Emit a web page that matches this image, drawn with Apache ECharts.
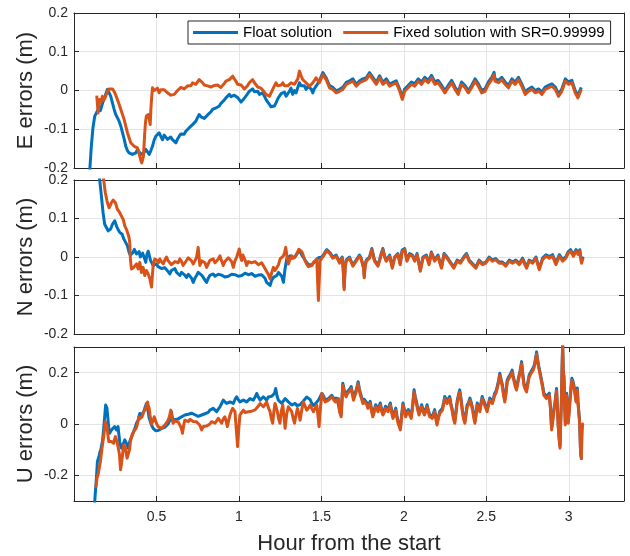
<!DOCTYPE html>
<html>
<head>
<meta charset="utf-8">
<script src="https://cdn.jsdelivr.net/npm/echarts@6/dist/echarts.min.js"></script>
<style>
  html, body { margin: 0; padding: 0; background: #ffffff; }
  #chart { width: 630px; height: 556px; }
</style>
</head>
<body>
<div id="chart"></div>
<script>
// Positioning errors (m) against elapsed time (hours), [hour, error] pairs.
const seriesNames = ['Float solution', 'Fixed solution with SR=0.99999'];
const panelTitles = ['E errors (m)', 'N errors (m)', 'U errors (m)'];
const xTitle = 'Hour from the start';

const eFloat = [[0.095,-0.21],[0.105,-0.144],[0.115,-0.096],[0.126,-0.066],[0.138,-0.062],[0.145,-0.05],[0.152,-0.045],[0.16,-0.052],[0.168,-0.04],[0.175,-0.03],[0.182,-0.023],[0.192,-0.01],[0.203,0.003],[0.213,-0.002],[0.223,-0.015],[0.233,-0.032],[0.243,-0.048],[0.253,-0.062],[0.263,-0.07],[0.273,-0.079],[0.284,-0.092],[0.294,-0.109],[0.304,-0.125],[0.314,-0.144],[0.324,-0.155],[0.334,-0.161],[0.344,-0.166],[0.354,-0.165],[0.365,-0.16],[0.375,-0.161],[0.385,-0.152],[0.395,-0.157],[0.405,-0.165],[0.415,-0.17],[0.425,-0.16],[0.435,-0.152],[0.445,-0.158],[0.456,-0.165],[0.466,-0.155],[0.476,-0.144],[0.486,-0.128],[0.496,-0.118],[0.506,-0.122],[0.516,-0.109],[0.526,-0.118],[0.537,-0.127],[0.547,-0.115],[0.557,-0.118],[0.567,-0.126],[0.577,-0.131],[0.587,-0.12],[0.597,-0.127],[0.608,-0.122],[0.618,-0.135],[0.628,-0.125],[0.638,-0.118],[0.648,-0.112],[0.658,-0.109],[0.668,-0.113],[0.678,-0.105],[0.689,-0.1],[0.699,-0.096],[0.709,-0.092],[0.719,-0.088],[0.729,-0.083],[0.739,-0.079],[0.749,-0.07],[0.759,-0.062],[0.77,-0.068],[0.78,-0.066],[0.79,-0.072],[0.8,-0.071],[0.81,-0.063],[0.82,-0.058],[0.83,-0.055],[0.84,-0.049],[0.851,-0.052],[0.861,-0.045],[0.871,-0.043],[0.881,-0.04],[0.891,-0.033],[0.901,-0.028],[0.911,-0.025],[0.921,-0.019],[0.932,-0.014],[0.942,-0.01],[0.952,-0.016],[0.962,-0.019],[0.972,-0.012],[0.982,-0.01],[0.992,-0.018],[1.002,-0.023],[1.013,-0.03],[1.023,-0.028],[1.033,-0.02],[1.043,-0.015],[1.053,-0.008],[1.063,-0.002],[1.073,0.002],[1.083,0.004],[1.094,-0.003],[1.104,-0.006],[1.114,-0.002],[1.124,-0.01],[1.134,-0.005],[1.144,-0.006],[1.154,-0.014],[1.164,-0.023],[1.175,-0.03],[1.185,-0.036],[1.195,-0.042],[1.205,-0.045],[1.215,-0.04],[1.225,-0.032],[1.235,-0.022],[1.245,-0.015],[1.256,-0.008],[1.266,-0.01],[1.276,-0.004],[1.286,-0.015],[1.296,-0.008],[1.306,-0.002],[1.316,0.006],[1.326,-0.01],[1.337,0.0],[1.347,-0.006],[1.357,0.008],[1.367,0.02],[1.377,0.012],[1.387,0.007],[1.397,0.012],[1.407,0.003],[1.418,0.01],[1.428,0.009],[1.438,0.004],[1.448,-0.006],[1.458,0.005],[1.468,0.011],
[1.488,0.025],[1.509,0.046],[1.529,0.033],[1.549,0.013],[1.569,0.008],[1.59,-0.001],[1.61,0.003],[1.63,0.008],[1.651,0.021],[1.671,0.025],[1.691,0.03],[1.711,0.016],[1.732,0.025],[1.752,0.03],[1.772,0.033],[1.792,0.046],[1.813,0.033],[1.833,0.021],[1.853,0.038],[1.873,0.021],[1.894,0.03],[1.914,0.016],[1.934,0.021],[1.954,0.025],[1.975,0.003],[1.991,-0.018],[2.005,0.004],[2.026,0.013],[2.046,0.022],[2.066,0.017],[2.087,0.03],[2.107,0.022],[2.127,0.034],[2.148,0.026],[2.168,0.039],[2.188,0.022],[2.208,0.026],[2.229,0.013],[2.249,0.0],[2.269,0.013],[2.29,0.026],[2.31,0.009],[2.33,-0.004],[2.35,0.022],[2.371,0.013],[2.391,0.0],[2.411,0.013],[2.432,0.03],[2.452,0.017],[2.472,0.0],[2.492,0.004],[2.513,0.022],[2.533,0.034],[2.547,0.047],[2.553,0.03],[2.574,0.026],[2.594,0.034],[2.614,0.022],[2.634,0.013],[2.655,0.03],[2.675,0.022],[2.695,0.034],[2.715,0.017],[2.736,-0.004],[2.756,0.004],[2.776,0.009],[2.796,0.0],[2.817,0.004],[2.837,-0.004],[2.857,0.009],[2.877,0.013],[2.898,0.017],[2.918,0.009],[2.938,-0.009],[2.958,0.004],[2.979,0.03],[2.999,0.022],[3.019,0.026],[3.039,0.0],[3.055,-0.013],[3.076,0.008]];

const eFixed = [[0.138,-0.013],[0.146,-0.058],[0.156,-0.023],[0.164,-0.03],[0.172,-0.015],[0.18,-0.025],[0.188,-0.019],[0.196,-0.01],[0.203,-0.002],[0.213,0.004],[0.223,0.009],[0.233,0.004],[0.243,-0.002],[0.253,-0.012],[0.263,-0.023],[0.273,-0.035],[0.284,-0.049],[0.294,-0.062],[0.304,-0.075],[0.314,-0.092],[0.324,-0.109],[0.334,-0.122],[0.344,-0.135],[0.354,-0.14],[0.365,-0.144],[0.375,-0.146],[0.385,-0.148],[0.392,-0.16],[0.399,-0.17],[0.405,-0.18],[0.411,-0.187],[0.416,-0.182],[0.421,-0.17],[0.425,-0.14],[0.429,-0.109],[0.434,-0.08],[0.439,-0.066],[0.445,-0.07],[0.452,-0.062],[0.457,-0.075],[0.462,-0.088],[0.466,-0.05],[0.47,-0.023],[0.476,0.007],[0.486,0.0],[0.496,0.003],[0.506,0.006],[0.516,-0.006],[0.526,0.002],[0.537,0.007],[0.547,0.002],[0.557,-0.002],[0.567,-0.006],[0.577,-0.01],[0.587,-0.012],[0.597,-0.015],[0.608,-0.01],[0.618,-0.006],[0.628,0.0],[0.638,0.003],[0.648,0.008],[0.658,0.011],[0.668,0.004],[0.678,0.007],[0.689,0.012],[0.699,0.016],[0.709,0.012],[0.719,0.02],[0.729,0.018],[0.739,0.016],[0.749,0.022],[0.759,0.028],[0.77,0.024],[0.78,0.02],[0.79,0.014],[0.8,0.009],[0.81,0.012],[0.82,0.007],[0.83,0.009],[0.84,0.011],[0.851,0.013],[0.861,0.016],[0.871,0.014],[0.881,0.011],[0.891,0.008],[0.901,0.013],[0.911,0.018],[0.921,0.024],[0.932,0.02],[0.942,0.028],[0.952,0.032],[0.962,0.037],[0.972,0.03],[0.982,0.024],[0.992,0.016],[1.002,0.02],[1.013,0.014],[1.023,0.011],[1.033,0.004],[1.043,0.007],[1.053,0.013],[1.063,0.02],[1.073,0.024],[1.083,0.028],[1.094,0.02],[1.104,0.016],[1.114,0.009],[1.124,0.011],[1.134,0.006],[1.144,0.003],[1.154,-0.004],[1.164,-0.01],[1.175,-0.012],[1.185,-0.015],[1.195,-0.006],[1.205,0.003],[1.215,0.012],[1.225,0.02],[1.235,0.012],[1.245,0.007],[1.256,0.014],[1.266,0.02],[1.276,0.012],[1.286,0.007],[1.296,0.012],[1.306,0.016],[1.316,0.02],[1.326,0.024],[1.337,0.016],[1.347,0.011],[1.357,0.03],[1.367,0.05],[1.377,0.038],[1.387,0.028],[1.397,0.024],[1.407,0.02],[1.418,0.015],[1.428,0.011],[1.438,0.016],[1.448,0.02],[1.458,0.026],[1.468,0.033],[1.488,0.02],[1.509,0.041],[1.529,0.028],[1.549,0.007],[1.569,0.003],[1.59,-0.006],[1.61,-0.002],[1.63,0.003],[1.651,0.016],[1.671,0.02],[1.691,0.024],[1.711,0.011],[1.732,0.02],[1.752,0.024],[1.772,0.028],[1.792,0.041],[1.813,0.028],[1.833,0.016],[1.853,0.033],[1.873,0.016],[1.894,0.024],[1.914,0.011],[1.934,0.016],[1.954,0.02],[1.975,-0.002],[1.991,-0.023],[2.005,-0.002],[2.026,0.007],[2.046,0.016],[2.066,0.011],[2.087,0.024],[2.107,0.016],[2.127,0.028],[2.148,0.02],[2.168,0.033],[2.188,0.016],[2.208,0.02],[2.229,0.007],[2.249,-0.006],[2.269,0.007],[2.29,0.02],[2.31,0.003],[2.33,-0.01],[2.35,0.016],[2.371,0.007],[2.391,-0.006],[2.411,0.007],[2.432,0.024],[2.452,0.011],[2.472,-0.006],[2.492,-0.002],[2.513,0.016],[2.533,0.028],[2.547,0.041],[2.553,0.024],[2.574,0.02],[2.594,0.028],[2.614,0.016],[2.634,0.007],[2.655,0.024],[2.675,0.016],[2.695,0.028],[2.715,0.011],[2.736,-0.01],[2.756,-0.002],[2.776,0.003],[2.796,-0.006],[2.817,-0.002],[2.837,-0.01],[2.857,0.003],[2.877,0.007],[2.898,0.011],[2.918,0.003],[2.938,-0.015],[2.958,-0.002],[2.979,0.024],[2.999,0.016],[3.019,0.02],[3.039,-0.006],[3.055,-0.019],[3.076,0.003]];

const nFloat = [[0.146,0.236],[0.156,0.2],[0.166,0.159],[0.176,0.116],[0.186,0.085],[0.196,0.081],[0.207,0.068],[0.214,0.066],[0.221,0.072],[0.227,0.078],[0.233,0.085],[0.24,0.09],[0.247,0.094],[0.254,0.085],[0.261,0.077],[0.269,0.07],[0.277,0.064],[0.285,0.066],[0.292,0.059],[0.302,0.047],[0.308,0.05],[0.314,0.042],[0.324,0.029],[0.334,0.012],[0.341,0.005],[0.348,0.003],[0.358,0.012],[0.366,0.02],[0.373,0.016],[0.379,0.008],[0.385,0.003],[0.395,0.014],[0.402,0.0],[0.409,-0.005],[0.416,0.01],[0.423,0.008],[0.429,-0.005],[0.435,-0.014],[0.443,0.008],[0.45,0.015],[0.456,0.012],[0.464,-0.009],[0.472,-0.015],[0.48,-0.022],[0.49,-0.02],[0.5,-0.018],[0.51,-0.025],[0.52,-0.022],[0.53,-0.03],[0.541,-0.035],[0.551,-0.028],[0.561,-0.031],[0.571,-0.038],[0.581,-0.044],[0.591,-0.035],[0.601,-0.035],[0.612,-0.03],[0.622,-0.04],[0.632,-0.042],[0.642,-0.048],[0.652,-0.04],[0.662,-0.04],[0.672,-0.047],[0.682,-0.053],[0.693,-0.045],[0.703,-0.044],[0.713,-0.055],[0.723,-0.066],[0.733,-0.055],[0.743,-0.048],[0.753,-0.04],[0.763,-0.04],[0.774,-0.047],[0.784,-0.053],[0.794,-0.06],[0.804,-0.066],[0.814,-0.055],[0.824,-0.048],[0.834,-0.043],[0.844,-0.044],[0.855,-0.05],[0.865,-0.053],[0.875,-0.045],[0.885,-0.044],[0.895,-0.047],[0.905,-0.048],[0.915,-0.052],[0.925,-0.057],[0.936,-0.05],[0.946,-0.053],[0.956,-0.045],[0.966,-0.04],[0.976,-0.046],[0.986,-0.048],[0.996,-0.05],[1.006,-0.053],[1.017,-0.048],[1.027,-0.044],[1.037,-0.042],[1.047,-0.04],[1.057,-0.046],[1.067,-0.048],[1.077,-0.043],[1.087,-0.044],[1.098,-0.05],[1.108,-0.053],[1.118,-0.047],[1.128,-0.044],[1.138,-0.046],[1.148,-0.048],[1.158,-0.055],[1.168,-0.066],[1.178,-0.07],[1.189,-0.074],[1.199,-0.06],[1.209,-0.053],[1.219,-0.05],[1.229,-0.048],[1.24,-0.04],[1.25,-0.035],[1.26,-0.05],[1.27,-0.066],[1.28,-0.03],[1.29,-0.005],[1.3,0.0],[1.31,0.003],[1.32,-0.003],[1.33,-0.005],[1.34,0.0],[1.35,0.008],[1.36,0.012],[1.371,0.016],[1.381,0.005],[1.391,-0.001],[1.401,-0.008],[1.411,-0.014],[1.421,-0.02],[1.432,-0.022],[1.442,-0.02],[1.452,-0.018],[1.462,-0.012],[1.472,-0.009],
[1.482,-0.002],[1.492,-0.007],[1.503,0.0],[1.513,0.006],[1.523,0.013],[1.533,0.019],[1.543,0.015],[1.553,0.011],[1.569,0.0],[1.59,0.005],[1.61,-0.013],[1.626,0.0],[1.632,-0.027],[1.638,-0.08],[1.644,-0.027],[1.65,-0.008],[1.67,0.0],[1.691,-0.021],[1.711,-0.008],[1.731,0.005],[1.741,-0.002],[1.752,-0.004],[1.756,-0.027],[1.76,-0.05],[1.764,-0.027],[1.772,-0.008],[1.782,-0.005],[1.792,0.0],[1.806,0.022],[1.822,-0.008],[1.843,-0.021],[1.853,-0.007],[1.863,0.009],[1.873,0.022],[1.883,0.003],[1.893,-0.008],[1.904,-0.002],[1.914,0.005],[1.93,-0.026],[1.944,0.0],[1.954,0.005],[1.964,0.009],[1.978,-0.017],[1.99,0.018],[2.005,0.022],[2.019,-0.008],[2.035,0.009],[2.052,0.005],[2.066,-0.008],[2.08,0.009],[2.09,-0.012],[2.1,-0.034],[2.108,-0.017],[2.116,0.0],[2.137,0.005],[2.153,-0.017],[2.167,0.013],[2.187,-0.008],[2.207,0.005],[2.218,-0.012],[2.228,-0.026],[2.244,0.009],[2.262,0.0],[2.282,-0.013],[2.303,-0.026],[2.323,-0.008],[2.343,-0.013],[2.363,0.0],[2.38,0.009],[2.396,-0.008],[2.416,-0.017],[2.437,-0.026],[2.456,-0.008],[2.477,-0.017],[2.497,-0.013],[2.517,0.0],[2.537,-0.008],[2.557,-0.004],[2.578,-0.013],[2.598,-0.013],[2.618,-0.021],[2.639,-0.008],[2.659,-0.013],[2.679,-0.008],[2.7,-0.017],[2.72,-0.003],[2.744,-0.026],[2.76,-0.008],[2.781,-0.013],[2.801,0.0],[2.821,-0.03],[2.841,-0.003],[2.862,0.006],[2.882,0.001],[2.902,0.006],[2.922,-0.016],[2.943,0.006],[2.963,-0.007],[2.983,0.001],[2.997,0.014],[3.011,0.019],[3.028,0.006],[3.044,0.019],[3.058,0.01],[3.067,0.019],[3.077,-0.012],[3.087,0.001]];

const nFixed = [[0.17,0.23],[0.18,0.2],[0.19,0.167],[0.2,0.146],[0.207,0.135],[0.213,0.128],[0.22,0.134],[0.227,0.141],[0.237,0.148],[0.244,0.145],[0.251,0.141],[0.257,0.133],[0.263,0.124],[0.27,0.12],[0.277,0.116],[0.283,0.11],[0.288,0.107],[0.298,0.098],[0.303,0.09],[0.308,0.081],[0.318,0.072],[0.328,0.059],[0.334,0.05],[0.338,0.038],[0.342,-0.005],[0.348,-0.031],[0.355,-0.03],[0.362,-0.027],[0.37,-0.022],[0.379,-0.018],[0.389,-0.031],[0.399,-0.014],[0.409,-0.04],[0.419,-0.027],[0.429,-0.048],[0.439,-0.035],[0.45,-0.044],[0.46,-0.057],[0.47,-0.078],[0.48,-0.022],[0.49,-0.005],[0.497,-0.01],[0.504,-0.009],[0.512,-0.015],[0.52,-0.005],[0.53,-0.012],[0.541,-0.018],[0.551,-0.008],[0.561,0.0],[0.571,-0.01],[0.581,-0.014],[0.591,-0.02],[0.601,-0.022],[0.612,-0.012],[0.622,-0.009],[0.632,-0.015],[0.642,-0.005],[0.652,-0.012],[0.662,-0.022],[0.672,-0.018],[0.682,-0.009],[0.693,-0.002],[0.703,0.003],[0.713,-0.01],[0.723,-0.018],[0.733,-0.01],[0.743,-0.001],[0.753,0.025],[0.763,-0.022],[0.774,-0.01],[0.784,-0.005],[0.794,-0.015],[0.804,-0.027],[0.814,-0.018],[0.824,-0.009],[0.834,-0.012],[0.844,-0.005],[0.855,-0.015],[0.865,-0.018],[0.875,-0.005],[0.885,0.003],[0.895,-0.01],[0.905,-0.022],[0.915,-0.012],[0.925,-0.014],[0.936,-0.002],[0.946,-0.005],[0.956,-0.012],[0.966,-0.027],[0.976,-0.01],[0.986,-0.001],[0.994,0.01],[1.002,0.021],[1.01,0.0],[1.017,-0.009],[1.024,0.005],[1.031,0.008],[1.039,-0.01],[1.047,-0.022],[1.057,-0.012],[1.067,-0.009],[1.077,-0.015],[1.087,-0.018],[1.098,-0.012],[1.108,-0.014],[1.118,-0.02],[1.128,-0.022],[1.138,-0.015],[1.148,-0.018],[1.158,-0.03],[1.168,-0.035],[1.178,-0.045],[1.189,-0.057],[1.199,-0.04],[1.209,-0.027],[1.219,-0.035],[1.229,-0.04],[1.24,-0.02],[1.25,-0.005],[1.26,-0.01],[1.27,0.003],[1.277,0.012],[1.284,0.025],[1.292,0.0],[1.3,-0.018],[1.31,-0.005],[1.32,0.003],[1.33,-0.003],[1.341,-0.005],[1.348,0.005],[1.355,0.012],[1.363,0.02],[1.371,0.025],[1.381,0.014],[1.391,0.003],[1.401,-0.01],[1.411,-0.018],[1.421,-0.025],[1.432,-0.027],[1.442,-0.022],[1.452,-0.014],[1.462,-0.01],[1.472,-0.005],[1.482,-0.113],[1.492,-0.01],[1.503,-0.003],[1.513,0.003],[1.523,0.01],[1.533,0.016],[1.543,0.012],[1.553,0.008],
[1.569,-0.003],[1.59,0.002],[1.61,-0.016],[1.626,-0.003],[1.632,-0.03],[1.638,-0.085],[1.644,-0.03],[1.65,-0.011],[1.67,-0.003],[1.691,-0.024],[1.711,-0.011],[1.731,0.002],[1.741,-0.005],[1.752,-0.007],[1.756,-0.03],[1.76,-0.054],[1.764,-0.03],[1.772,-0.011],[1.782,-0.008],[1.792,-0.003],[1.806,0.019],[1.822,-0.011],[1.843,-0.024],[1.853,-0.01],[1.863,0.006],[1.873,0.019],[1.883,0.0],[1.893,-0.011],[1.904,-0.005],[1.914,0.002],[1.93,-0.029],[1.944,-0.003],[1.954,0.002],[1.964,0.006],[1.978,-0.02],[1.99,0.015],[2.005,0.019],[2.019,-0.011],[2.035,0.006],[2.052,0.002],[2.066,-0.011],[2.08,0.006],[2.09,-0.015],[2.1,-0.037],[2.108,-0.02],[2.116,-0.003],[2.137,0.002],[2.153,-0.02],[2.167,0.01],[2.187,-0.011],[2.207,0.002],[2.218,-0.015],[2.228,-0.029],[2.244,0.006],[2.262,-0.003],[2.282,-0.016],[2.303,-0.029],[2.323,-0.011],[2.343,-0.016],[2.363,-0.003],[2.38,0.006],[2.396,-0.011],[2.416,-0.02],[2.437,-0.029],[2.456,-0.011],[2.477,-0.02],[2.497,-0.016],[2.517,-0.003],[2.537,-0.011],[2.557,-0.007],[2.578,-0.016],[2.598,-0.016],[2.618,-0.024],[2.639,-0.011],[2.659,-0.016],[2.679,-0.011],[2.7,-0.02],[2.72,-0.007],[2.744,-0.029],[2.76,-0.011],[2.781,-0.016],[2.801,-0.003],[2.821,-0.033],[2.841,-0.007],[2.862,0.002],[2.882,-0.003],[2.902,0.002],[2.922,-0.02],[2.943,0.002],[2.963,-0.011],[2.983,-0.003],[2.997,0.01],[3.011,0.015],[3.028,0.002],[3.044,0.015],[3.058,0.006],[3.067,0.015],[3.077,-0.016],[3.087,-0.003]];

const uFloat = [[0.124,-0.32],[0.128,-0.28],[0.132,-0.245],[0.136,-0.21],[0.142,-0.146],[0.147,-0.135],[0.152,-0.126],[0.157,-0.11],[0.162,-0.101],[0.167,-0.085],[0.172,-0.068],[0.176,-0.045],[0.18,-0.017],[0.186,0.028],[0.19,0.06],[0.192,0.074],[0.196,0.07],[0.2,0.061],[0.205,0.025],[0.209,-0.004],[0.213,-0.025],[0.217,-0.036],[0.222,-0.028],[0.227,-0.03],[0.232,-0.02],[0.237,-0.017],[0.242,-0.022],[0.247,-0.01],[0.252,-0.015],[0.257,-0.023],[0.262,-0.018],[0.267,-0.01],[0.272,-0.04],[0.277,-0.068],[0.282,-0.085],[0.288,-0.094],[0.293,-0.086],[0.298,-0.081],[0.303,-0.07],[0.308,-0.062],[0.313,-0.065],[0.318,-0.068],[0.323,-0.082],[0.328,-0.094],[0.333,-0.08],[0.338,-0.068],[0.343,-0.06],[0.348,-0.055],[0.353,-0.045],[0.358,-0.036],[0.364,-0.025],[0.369,-0.017],[0.374,-0.008],[0.379,0.003],[0.384,0.01],[0.389,0.015],[0.394,0.03],[0.399,0.041],[0.404,0.03],[0.409,0.035],[0.414,0.04],[0.419,0.041],[0.424,0.05],[0.429,0.061],[0.434,0.07],[0.439,0.08],[0.444,0.065],[0.45,0.048],[0.455,0.025],[0.46,0.015],[0.465,0.005],[0.47,-0.004],[0.475,-0.01],[0.48,-0.017],[0.485,-0.02],[0.49,-0.023],[0.495,-0.026],[0.5,-0.03],[0.51,-0.025],[0.52,-0.023],[0.53,-0.018],[0.541,-0.017],[0.551,-0.012],[0.561,-0.01],[0.571,0.0],[0.581,0.015],[0.586,0.03],[0.591,0.048],[0.596,0.025],[0.601,0.009],[0.612,0.018],[0.622,0.022],[0.632,0.02],[0.642,0.015],[0.652,0.028],[0.662,0.028],[0.672,0.035],[0.682,0.041],[0.693,0.038],[0.703,0.035],[0.713,0.042],[0.723,0.041],[0.733,0.036],[0.743,0.035],[0.753,0.03],[0.763,0.028],[0.774,0.035],[0.784,0.041],[0.794,0.04],[0.804,0.035],[0.814,0.045],[0.824,0.054],[0.834,0.058],[0.844,0.061],[0.855,0.055],[0.865,0.048],[0.875,0.058],[0.885,0.067],[0.895,0.08],[0.905,0.093],[0.915,0.09],[0.925,0.08],[0.936,0.084],[0.946,0.086],[0.956,0.085],[0.966,0.08],[0.976,0.095],[0.986,0.106],[0.996,0.095],[1.006,0.086],[1.017,0.09],[1.027,0.093],[1.037,0.09],[1.047,0.086],[1.057,0.093],[1.067,0.099],[1.077,0.095],[1.087,0.093],[1.098,0.105],[1.108,0.119],[1.118,0.105],[1.128,0.093],[1.138,0.1],[1.148,0.106],[1.158,0.1],[1.168,0.093],[1.178,0.105],[1.189,0.112],[1.199,0.108],[1.209,0.106],[1.216,0.12],[1.223,0.138],[1.231,0.11],[1.239,0.093],[1.249,0.088],[1.26,0.08],[1.27,0.09],[1.28,0.099],[1.29,0.092],[1.3,0.086],[1.31,0.08],[1.32,0.074],[1.33,0.078],[1.341,0.08],[1.351,0.072],[1.361,0.067],[1.371,0.075],[1.381,0.08],[1.391,0.09],[1.401,0.093],[1.411,0.105],[1.422,0.112],[1.432,0.095],[1.442,0.08],[1.452,0.072],[1.462,0.067],[1.472,0.085],[1.482,0.093],[1.492,0.105],[1.503,0.119],[1.513,0.11],[1.523,0.093],[1.533,0.095],[1.543,0.099],[1.553,0.105],[1.563,0.112],[1.574,0.1],[1.584,0.093],[1.594,0.1],[1.604,0.106],
[1.61,0.056],[1.62,0.036],[1.63,0.159],[1.64,0.128],[1.65,0.114],[1.658,0.126],[1.667,0.133],[1.674,0.138],[1.681,0.146],[1.688,0.123],[1.695,0.101],[1.703,0.118],[1.711,0.133],[1.717,0.148],[1.723,0.165],[1.73,0.138],[1.737,0.12],[1.745,0.103],[1.752,0.088],[1.76,0.096],[1.768,0.101],[1.775,0.083],[1.782,0.069],[1.789,0.078],[1.796,0.088],[1.804,0.058],[1.812,0.036],[1.82,0.053],[1.829,0.075],[1.836,0.068],[1.843,0.056],[1.85,0.07],[1.857,0.082],[1.865,0.058],[1.873,0.043],[1.881,0.053],[1.889,0.069],[1.897,0.063],[1.904,0.056],[1.911,0.07],[1.918,0.082],[1.926,0.053],[1.934,0.03],[1.942,0.043],[1.951,0.062],[1.958,0.033],[1.965,0.011],[1.972,-0.002],[1.979,-0.015],[1.987,0.038],[1.995,0.082],[2.003,0.058],[2.011,0.036],[2.019,0.048],[2.027,0.056],[2.036,0.043],[2.045,0.03],[2.054,0.078],[2.062,0.133],[2.069,0.108],[2.076,0.088],[2.084,0.063],[2.092,0.043],[2.1,0.058],[2.108,0.075],[2.116,0.058],[2.125,0.043],[2.133,0.058],[2.141,0.075],[2.149,0.053],[2.157,0.036],[2.165,0.033],[2.173,0.03],[2.18,0.043],[2.187,0.056],[2.194,0.028],[2.201,0.004],[2.209,0.028],[2.218,0.049],[2.226,0.056],[2.234,0.062],[2.241,0.083],[2.248,0.107],[2.255,0.103],[2.263,0.088],[2.27,0.098],[2.278,0.107],[2.286,0.078],[2.294,0.056],[2.301,0.028],[2.309,0.011],[2.316,0.048],[2.323,0.088],[2.331,0.113],[2.339,0.133],[2.347,0.098],[2.355,0.056],[2.362,0.028],[2.37,0.011],[2.377,0.043],[2.384,0.075],[2.392,0.083],[2.401,0.101],[2.409,0.083],[2.417,0.062],[2.424,0.033],[2.431,0.011],[2.438,0.043],[2.445,0.082],[2.453,0.068],[2.461,0.056],[2.468,0.083],[2.475,0.107],[2.483,0.093],[2.491,0.088],[2.498,0.068],[2.505,0.056],[2.513,0.078],[2.521,0.101],[2.529,0.096],[2.537,0.088],[2.544,0.103],[2.551,0.12],[2.559,0.128],[2.566,0.146],[2.574,0.168],[2.582,0.198],[2.59,0.173],[2.598,0.152],[2.605,0.118],[2.612,0.094],[2.62,0.128],[2.627,0.172],[2.635,0.183],[2.643,0.191],[2.65,0.2],[2.657,0.21],[2.663,0.188],[2.669,0.172],[2.676,0.153],[2.683,0.14],[2.69,0.163],[2.697,0.185],[2.705,0.208],[2.714,0.243],[2.721,0.198],[2.728,0.159],[2.736,0.143],[2.744,0.133],[2.752,0.163],[2.76,0.191],[2.768,0.198],[2.776,0.21],[2.784,0.218],[2.791,0.23],[2.798,0.253],[2.805,0.281],[2.812,0.248],[2.819,0.223],[2.827,0.198],[2.835,0.172],[2.842,0.148],[2.849,0.12],[2.857,0.113],[2.865,0.107],[2.873,0.108],[2.882,0.12],[2.889,0.068],[2.896,-0.015],[2.901,0.008],[2.906,0.036],[2.911,0.063],[2.916,0.082],[2.921,0.108],[2.926,0.138],[2.931,0.068],[2.936,-0.002],[2.941,-0.047],[2.947,-0.086],[2.951,0.008],[2.955,0.082],[2.959,0.208],[2.963,0.314],[2.967,0.208],[2.971,0.185],[2.975,0.088],[2.979,0.004],[2.983,0.058],[2.987,0.12],[2.992,0.058],[2.997,0.011],[3.002,0.048],[3.007,0.094],[3.013,0.138],[3.019,0.178],[3.025,0.168],[3.031,0.152],[3.037,0.128],[3.044,0.094],[3.048,0.118],[3.052,0.14],[3.056,0.088],[3.06,0.056],[3.066,0.011],[3.069,-0.052],[3.072,-0.112],[3.078,-0.139]];

const uFixed = [[0.132,-0.249],[0.136,-0.23],[0.14,-0.21],[0.145,-0.2],[0.15,-0.184],[0.155,-0.165],[0.16,-0.146],[0.165,-0.12],[0.17,-0.094],[0.175,-0.07],[0.18,-0.049],[0.185,-0.02],[0.19,0.009],[0.195,0.005],[0.2,-0.01],[0.205,-0.04],[0.211,-0.068],[0.216,-0.07],[0.221,-0.075],[0.226,-0.068],[0.231,-0.062],[0.236,-0.07],[0.241,-0.075],[0.246,-0.06],[0.251,-0.049],[0.256,-0.06],[0.261,-0.068],[0.266,-0.065],[0.271,-0.068],[0.276,-0.12],[0.282,-0.178],[0.287,-0.16],[0.292,-0.133],[0.297,-0.105],[0.302,-0.081],[0.307,-0.085],[0.312,-0.094],[0.317,-0.115],[0.322,-0.133],[0.327,-0.14],[0.332,-0.139],[0.337,-0.1],[0.342,-0.068],[0.347,-0.055],[0.352,-0.042],[0.357,-0.035],[0.362,-0.03],[0.367,-0.028],[0.373,-0.023],[0.378,-0.015],[0.383,-0.004],[0.388,0.01],[0.393,0.028],[0.398,0.02],[0.403,0.015],[0.408,0.022],[0.413,0.028],[0.418,0.035],[0.423,0.048],[0.429,0.055],[0.435,0.061],[0.441,0.075],[0.446,0.086],[0.451,0.07],[0.456,0.061],[0.461,0.035],[0.466,0.015],[0.471,0.0],[0.476,-0.004],[0.481,0.015],[0.486,0.028],[0.491,0.02],[0.496,0.009],[0.503,-0.002],[0.51,-0.01],[0.52,-0.012],[0.531,-0.017],[0.541,-0.01],[0.551,-0.004],[0.561,0.005],[0.571,0.015],[0.579,0.03],[0.587,0.054],[0.594,0.025],[0.601,0.003],[0.612,0.012],[0.622,0.015],[0.632,0.008],[0.642,0.003],[0.65,-0.015],[0.658,-0.036],[0.665,-0.005],[0.672,0.015],[0.682,0.01],[0.693,0.009],[0.703,0.018],[0.713,0.022],[0.723,0.01],[0.733,0.003],[0.743,0.009],[0.753,0.009],[0.763,-0.005],[0.774,-0.023],[0.784,-0.01],[0.794,-0.004],[0.804,-0.008],[0.814,-0.01],[0.824,0.0],[0.834,0.009],[0.844,0.005],[0.855,0.003],[0.865,0.01],[0.875,0.022],[0.885,0.015],[0.895,0.003],[0.905,0.02],[0.915,0.028],[0.923,0.01],[0.93,-0.01],[0.938,0.015],[0.946,0.035],[0.954,0.05],[0.962,0.061],[0.969,0.055],[0.976,0.048],[0.984,-0.02],[0.992,-0.088],[0.999,-0.02],[1.006,0.035],[1.017,0.045],[1.027,0.054],[1.037,0.045],[1.047,0.041],[1.057,0.048],[1.067,0.054],[1.077,0.05],[1.087,0.048],[1.098,0.055],[1.108,0.061],[1.118,0.07],[1.128,0.08],[1.138,0.075],[1.148,0.067],[1.158,0.075],[1.168,0.086],[1.178,0.065],[1.189,0.048],[1.197,0.02],[1.205,0.003],[1.212,0.05],[1.219,0.08],[1.226,0.065],[1.233,0.048],[1.241,0.02],[1.249,0.003],[1.257,0.05],[1.266,0.074],[1.273,0.03],[1.28,-0.017],[1.29,0.04],[1.3,0.067],[1.31,0.06],[1.32,0.048],[1.328,0.025],[1.337,0.003],[1.346,0.035],[1.355,0.061],[1.363,0.04],[1.371,0.015],[1.381,0.055],[1.391,0.086],[1.401,0.07],[1.411,0.054],[1.422,0.062],[1.432,0.074],[1.442,0.06],[1.452,0.048],[1.462,0.062],[1.472,0.074],[1.479,0.035],[1.486,-0.01],[1.494,0.06],[1.503,0.119],[1.513,0.1],[1.523,0.086],[1.533,0.088],[1.543,0.093],[1.553,0.099],[1.563,0.106],[1.574,0.095],[1.584,0.086],[1.594,0.093],[1.604,0.099],
[1.61,0.048],[1.62,0.028],[1.63,0.151],[1.64,0.12],[1.65,0.106],[1.658,0.118],[1.667,0.125],[1.674,0.13],[1.681,0.138],[1.688,0.115],[1.695,0.093],[1.703,0.11],[1.711,0.125],[1.717,0.14],[1.723,0.157],[1.73,0.13],[1.737,0.112],[1.745,0.095],[1.752,0.08],[1.76,0.088],[1.768,0.093],[1.775,0.075],[1.782,0.061],[1.789,0.07],[1.796,0.08],[1.804,0.05],[1.812,0.028],[1.82,0.045],[1.829,0.067],[1.836,0.06],[1.843,0.048],[1.85,0.062],[1.857,0.074],[1.865,0.05],[1.873,0.035],[1.881,0.045],[1.889,0.061],[1.897,0.055],[1.904,0.048],[1.911,0.062],[1.918,0.074],[1.926,0.045],[1.934,0.022],[1.942,0.035],[1.951,0.054],[1.958,0.025],[1.965,0.003],[1.972,-0.01],[1.979,-0.023],[1.987,0.03],[1.995,0.074],[2.003,0.05],[2.011,0.028],[2.019,0.04],[2.027,0.048],[2.036,0.035],[2.045,0.022],[2.054,0.07],[2.062,0.125],[2.069,0.1],[2.076,0.08],[2.084,0.055],[2.092,0.035],[2.1,0.05],[2.108,0.067],[2.116,0.05],[2.125,0.035],[2.133,0.05],[2.141,0.067],[2.149,0.045],[2.157,0.028],[2.165,0.025],[2.173,0.022],[2.18,0.035],[2.187,0.048],[2.194,0.02],[2.201,-0.004],[2.209,0.02],[2.218,0.041],[2.226,0.048],[2.234,0.054],[2.241,0.075],[2.248,0.099],[2.255,0.095],[2.263,0.08],[2.27,0.09],[2.278,0.099],[2.286,0.07],[2.294,0.048],[2.301,0.02],[2.309,0.003],[2.316,0.04],[2.323,0.08],[2.331,0.105],[2.339,0.125],[2.347,0.09],[2.355,0.048],[2.362,0.02],[2.37,0.003],[2.377,0.035],[2.384,0.067],[2.392,0.075],[2.401,0.093],[2.409,0.075],[2.417,0.054],[2.424,0.025],[2.431,0.003],[2.438,0.035],[2.445,0.074],[2.453,0.06],[2.461,0.048],[2.468,0.075],[2.475,0.099],[2.483,0.085],[2.491,0.08],[2.498,0.06],[2.505,0.048],[2.513,0.07],[2.521,0.093],[2.529,0.088],[2.537,0.08],[2.544,0.095],[2.551,0.112],[2.559,0.12],[2.566,0.138],[2.574,0.16],[2.582,0.19],[2.59,0.165],[2.598,0.144],[2.605,0.11],[2.612,0.086],[2.62,0.12],[2.627,0.164],[2.635,0.175],[2.643,0.183],[2.65,0.192],[2.657,0.202],[2.663,0.18],[2.669,0.164],[2.676,0.145],[2.683,0.132],[2.69,0.155],[2.697,0.177],[2.705,0.2],[2.714,0.235],[2.721,0.19],[2.728,0.151],[2.736,0.135],[2.744,0.125],[2.752,0.155],[2.76,0.183],[2.768,0.19],[2.776,0.202],[2.784,0.21],[2.791,0.222],[2.798,0.245],[2.805,0.273],[2.812,0.24],[2.819,0.215],[2.827,0.19],[2.835,0.164],[2.842,0.14],[2.849,0.112],[2.857,0.105],[2.865,0.099],[2.873,0.1],[2.882,0.112],[2.889,0.06],[2.896,-0.023],[2.901,0.0],[2.906,0.028],[2.911,0.055],[2.916,0.074],[2.921,0.1],[2.926,0.13],[2.931,0.06],[2.936,-0.01],[2.941,-0.055],[2.947,-0.094],[2.951,0.0],[2.955,0.074],[2.959,0.2],[2.963,0.31],[2.967,0.2],[2.971,0.177],[2.975,0.08],[2.979,-0.004],[2.983,0.05],[2.987,0.112],[2.992,0.05],[2.997,0.003],[3.002,0.04],[3.007,0.086],[3.013,0.13],[3.019,0.17],[3.025,0.16],[3.031,0.144],[3.037,0.12],[3.044,0.086],[3.048,0.11],[3.052,0.132],[3.056,0.08],[3.06,0.048],[3.066,0.003],[3.069,-0.06],[3.072,-0.12],[3.076,-0.133],[3.08,-0.05],[3.084,0.0],[3.088,-0.004]];

const FONT = '"Liberation Sans", Arial, Helvetica, sans-serif';
const BLUE = '#0072BD';
const ORANGE = '#D95319';
const FRAME = '#262626';
const GRID = '#e4e4e4';
const X_MIN = 0, X_MAX = 3.335;

const panels = [
  { top: 13, height: 155, y: { min: -0.2, max: 0.2, interval: 0.1 }, edgeLabels: true, float: eFloat, fixed: eFixed },
  { top: 180, height: 154, y: { min: -0.2, max: 0.2, interval: 0.1 }, edgeLabels: true, float: nFloat, fixed: nFixed },
  { top: 347, height: 154, y: { min: -0.3, max: 0.3, splitNumber: 3 }, edgeLabels: false, float: uFloat, fixed: uFixed }
];

const grids = [], xAxes = [], yAxes = [], series = [];
const frameLine = { show: true, onZero: false, lineStyle: { color: FRAME, width: 1 } };
const innerTick = { show: true, inside: true, length: 5, lineStyle: { color: FRAME, width: 1 } };

panels.forEach((p, i) => {
  const last = i === panels.length - 1;
  grids.push({ left: 74, right: 6, top: p.top, height: p.height, show: false });

  xAxes.push({
    type: 'value', gridIndex: i, min: X_MIN, max: X_MAX, interval: 0.5,
    axisLine: frameLine, axisTick: innerTick,
    axisLabel: { show: last, showMinLabel: false, showMaxLabel: false, color: FRAME, fontSize: 14, fontFamily: FONT, margin: 9 },
    splitLine: { show: true, lineStyle: { color: GRID, width: 1 } },
    name: last ? xTitle : '', nameLocation: 'middle', nameGap: 32, nameMoveOverlap: false,
    nameTextStyle: { fontSize: 22, color: FRAME, fontFamily: FONT }
  });
  xAxes.push({
    type: 'value', gridIndex: i, position: 'top', min: X_MIN, max: X_MAX, interval: 0.5,
    axisLine: frameLine, axisTick: innerTick, axisLabel: { show: false }, splitLine: { show: false }
  });

  const yBase = Object.assign({ type: 'value', gridIndex: i }, p.y);
  yAxes.push(Object.assign({}, yBase, {
    axisLine: frameLine, axisTick: innerTick,
    axisLabel: { color: FRAME, fontSize: 14, fontFamily: FONT, margin: 6,
                 showMinLabel: p.edgeLabels, showMaxLabel: p.edgeLabels },
    splitLine: { show: true, lineStyle: { color: GRID, width: 1 } },
    name: panelTitles[i], nameLocation: 'middle', nameRotate: 90, nameGap: 37, nameMoveOverlap: false,
    nameTextStyle: { fontSize: 22, color: FRAME, fontFamily: FONT }
  }));
  yAxes.push(Object.assign({}, yBase, {
    position: 'right',
    axisLine: frameLine, axisTick: innerTick, axisLabel: { show: false }, splitLine: { show: false }
  }));

  [[p.float, seriesNames[0], BLUE], [p.fixed, seriesNames[1], ORANGE]].forEach(([data, name, color]) => {
    series.push({
      type: 'line', name, data,
      xAxisIndex: 2 * i, yAxisIndex: 2 * i,
      symbol: 'none', showSymbol: false, clip: true,
      lineStyle: { color, width: 3, join: 'round' },
      itemStyle: { color },
      emphasis: { disabled: true }
    });
  });
});

const chart = echarts.init(document.getElementById('chart'), null, { renderer: 'canvas' });
chart.setOption({
  animation: false,
  backgroundColor: '#ffffff',
  textStyle: { fontFamily: FONT },
  grid: grids,
  xAxis: xAxes,
  yAxis: yAxes,
  legend: {
    data: seriesNames, left: 188, top: 21, orient: 'horizontal',
    icon: 'rect', itemWidth: 45, itemHeight: 3, itemGap: 11,
    padding: [4, 6, 4, 5], borderColor: FRAME, borderWidth: 1, backgroundColor: '#ffffff',
    selectedMode: false,
    textStyle: { fontSize: 15, color: '#000000', fontFamily: FONT }
  },
  series: series
});
</script>
</body>
</html>
